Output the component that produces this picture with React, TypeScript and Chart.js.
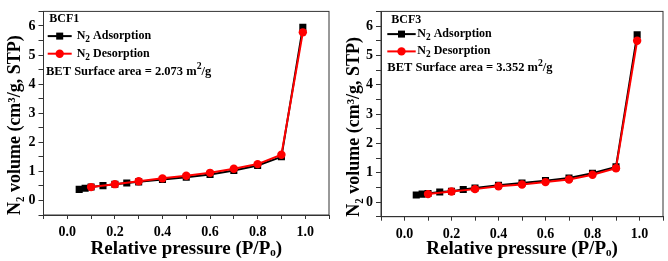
import React, { useEffect, useRef } from 'react';
import { Chart, registerables } from 'chart.js';
Chart.register(...registerables);

// ---- data ----
const adsorptionP = [0.05, 0.075, 0.1, 0.15, 0.2, 0.25, 0.3, 0.4, 0.5, 0.6, 0.7, 0.8, 0.9, 0.99];
const desorptionP = [0.99, 0.9, 0.8, 0.7, 0.6, 0.5, 0.4, 0.3, 0.2, 0.1];
const bcf1Adsorption = [0.38, 0.42, 0.46, 0.51, 0.56, 0.6, 0.64, 0.72, 0.8, 0.89, 1.03, 1.2, 1.5, 5.95];
const bcf1Desorption = [5.78, 1.57, 1.25, 1.09, 0.95, 0.85, 0.76, 0.66, 0.56, 0.46];
const bcf3Adsorption = [0.24, 0.27, 0.29, 0.34, 0.37, 0.43, 0.48, 0.57, 0.65, 0.73, 0.82, 0.98, 1.2, 5.7];
const bcf3Desorption = [5.5, 1.15, 0.93, 0.77, 0.68, 0.6, 0.54, 0.44, 0.36, 0.27];
const sampleNames = ['BCF1', 'BCF3'];
const surfaceAreas = ['2.073', '3.352'];
const seriesNames = ['Adsorption', 'Desorption'];
const xTickLabels = ['0.0', '0.2', '0.4', '0.6', '0.8', '1.0'];
const yTickLabels = ['0', '1', '2', '3', '4', '5', '6'];
const xTitle = 'Relative pressure (P/P\u2092)';
const yTitle = 'N\u2082 volume (cm\u00B3/g, STP)';

const FAMILY = "'Liberation Serif', 'Times New Roman', 'DejaVu Serif', serif";

type Seg = { t: string; sub?: boolean; sup?: boolean };
function drawRich(ctx: CanvasRenderingContext2D, segs: Seg[], x: number, y: number, size: number) {
  let cx = x;
  ctx.textBaseline = 'middle';
  ctx.textAlign = 'left';
  ctx.fillStyle = '#000';
  for (const s of segs) {
    const fs = s.sub || s.sup ? size * 0.78 : size;
    ctx.font = `bold ${fs}px ${FAMILY}`;
    const dy = s.sub ? size * 0.3 : s.sup ? -size * 0.38 : 0;
    ctx.fillText(s.t, cx, y + dy);
    cx += ctx.measureText(s.t).width;
  }
}

type Cfg = {
  padding: { top: number; right: number; left: number; bottom: number };
  yWidth: number;
  xHeight: number;
  yTitlePad: number;
  lg: { nameX: number; nameY: number; lineX1: number; lineX2: number; textX: number; adsY: number; desY: number; betX: number; betY: number };
};

const cfgs: Cfg[] = [
  {
    padding: { top: 1, right: 4.7, left: 0, bottom: 0 },
    yWidth: 43.5,
    xHeight: 46,
    yTitlePad: 5,
    lg: { nameX: 5.8, nameY: 8, lineX1: 4.2, lineX2: 28.2, textX: 33.2, adsY: 24.7, desY: 42.3, betX: 2.5, betY: 60 },
  },
  {
    padding: { top: 3.3, right: 2, left: 0, bottom: 0 },
    yWidth: 47,
    xHeight: 44.3,
    yTitlePad: 10,
    lg: { nameX: 10.3, nameY: 9, lineX1: 6.3, lineX2: 34.7, textX: 36.3, adsY: 22.7, desY: 40, betX: 6.3, betY: 56.7 },
  },
];

function labelFor(list: string[], v: number) {
  const f = list.find((l) => Math.abs(parseFloat(l) - v) < 1e-6);
  return f ?? '';
}

function Panel({ idx, ads, des }: { idx: number; ads: number[]; des: number[] }) {
  const ref = useRef<HTMLCanvasElement>(null);
  useEffect(() => {
    const cfg = cfgs[idx];
    const framePlugin = {
      id: 'frame' + idx,
      beforeDatasetsDraw(chart: any) {
        const { ctx, chartArea: a } = chart;
        ctx.save();
        ctx.strokeStyle = '#333';
        ctx.lineWidth = 1;
        ctx.strokeRect(a.left, a.top, a.right - a.left, a.bottom - a.top);
        ctx.restore();
      },
      afterDraw(chart: any) {
        const { ctx, chartArea: a } = chart;
        const L = cfg.lg;
        ctx.save();
        drawRich(ctx, [{ t: sampleNames[idx] }], a.left + L.nameX, a.top + L.nameY, 12);
        // adsorption sample
        const mx = (L.lineX1 + L.lineX2) / 2;
        ctx.strokeStyle = '#000';
        ctx.lineWidth = 2;
        ctx.beginPath();
        ctx.moveTo(a.left + L.lineX1, a.top + L.adsY);
        ctx.lineTo(a.left + L.lineX2, a.top + L.adsY);
        ctx.stroke();
        ctx.fillStyle = '#000';
        ctx.fillRect(a.left + mx - 3.5, a.top + L.adsY - 3.5, 7, 7);
        drawRich(ctx, [{ t: 'N' }, { t: '2', sub: true }, { t: ' ' + seriesNames[0] }], a.left + L.textX, a.top + L.adsY, 12);
        // desorption sample
        ctx.strokeStyle = '#f00';
        ctx.lineWidth = 2;
        ctx.beginPath();
        ctx.moveTo(a.left + L.lineX1, a.top + L.desY);
        ctx.lineTo(a.left + L.lineX2, a.top + L.desY);
        ctx.stroke();
        ctx.fillStyle = '#f00';
        ctx.beginPath();
        ctx.arc(a.left + mx, a.top + L.desY, 4.2, 0, Math.PI * 2);
        ctx.fill();
        drawRich(ctx, [{ t: 'N' }, { t: '2', sub: true }, { t: ' ' + seriesNames[1] }], a.left + L.textX, a.top + L.desY, 12);
        drawRich(
          ctx,
          [{ t: 'BET Surface area = ' + surfaceAreas[idx] + ' m' }, { t: '2', sup: true }, { t: '/g' }],
          a.left + L.betX,
          a.top + L.betY,
          12.5
        );
        ctx.restore();
      },
    };

    const chart = new Chart(ref.current as HTMLCanvasElement, {
      type: 'scatter',
      data: {
        datasets: [
          {
            label: 'N2 ' + seriesNames[0],
            data: adsorptionP.map((x, i) => ({ x, y: ads[i] })),
            showLine: true,
            borderColor: '#000',
            backgroundColor: '#000',
            pointStyle: 'rect',
            pointRadius: 5,
            pointBorderWidth: 0,
            borderWidth: 2,
            order: 2,
          },
          {
            label: 'N2 ' + seriesNames[1],
            data: desorptionP.map((x, i) => ({ x, y: des[i] })),
            showLine: true,
            borderColor: '#f00',
            backgroundColor: '#f00',
            pointStyle: 'circle',
            pointRadius: 4.2,
            pointBorderWidth: 0,
            borderWidth: 2,
            order: 1,
          },
        ],
      },
      options: {
        animation: false,
        responsive: false,
        events: [],
        layout: { padding: cfg.padding },
        plugins: { legend: { display: false }, tooltip: { enabled: false } },
        scales: {
          x: {
            type: 'linear',
            min: -0.1,
            max: 1.1,
            afterFit: (s: any) => {
              s.height = cfg.xHeight;
            },
            ticks: {
              stepSize: 0.1,
              autoSkip: false,
              maxRotation: 0,
              padding: 5,
              color: '#000',
              font: { family: FAMILY, weight: 'bold', size: 14 },
              callback: (v: any) => labelFor(xTickLabels, Number(v)),
            },
            grid: { drawOnChartArea: false, drawTicks: true, tickLength: 4, color: '#333' },
            border: { display: true, color: '#333', width: 1 },
            title: {
              display: true,
              text: xTitle,
              color: '#000',
              font: { family: FAMILY, weight: 'bold', size: 19 },
              padding: { top: 0, bottom: 1 },
            },
          },
          y: {
            type: 'linear',
            min: -0.5,
            max: 6.5,
            afterFit: (s: any) => {
              s.width = cfg.yWidth;
            },
            ticks: {
              stepSize: 0.5,
              autoSkip: false,
              padding: 3,
              color: '#000',
              font: { family: FAMILY, weight: 'bold', size: 14 },
              callback: (v: any) => labelFor(yTickLabels, Number(v)),
            },
            grid: { drawOnChartArea: false, drawTicks: true, tickLength: 5, color: '#333' },
            border: { display: true, color: '#333', width: 1 },
            title: {
              display: true,
              text: yTitle,
              align: 'start',
              color: '#000',
              font: { family: FAMILY, weight: 'bold', size: 18 },
              padding: { top: cfg.yTitlePad, bottom: 0 },
            },
          },
        },
      } as any,
      plugins: [framePlugin],
    });
    return () => chart.destroy();
  }, []);
  return <canvas ref={ref} width={334} height={261} style={{ display: 'block', width: 334, height: 261 }} />;
}

export default function App() {
  return (
    <div style={{ position: 'fixed', left: 0, top: 0, width: 668, height: 261, background: '#fff', display: 'flex' }}>
      <Panel idx={0} ads={bcf1Adsorption} des={bcf1Desorption} />
      <Panel idx={1} ads={bcf3Adsorption} des={bcf3Desorption} />
    </div>
  );
}
